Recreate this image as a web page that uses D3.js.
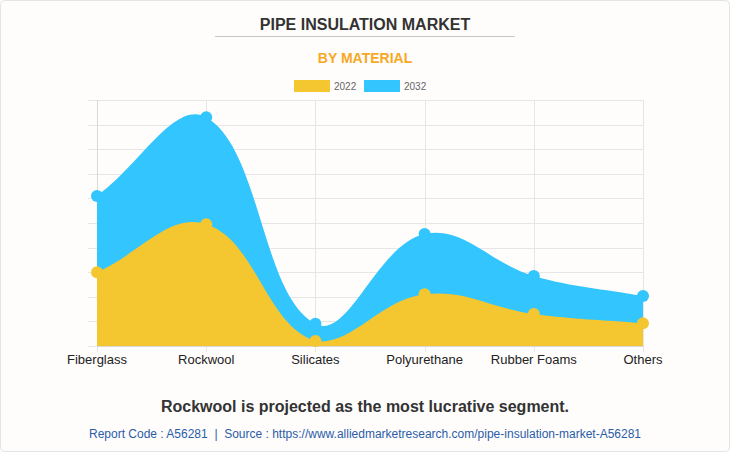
<!DOCTYPE html>
<html><head><meta charset="utf-8">
<script src="https://cdn.jsdelivr.net/npm/d3@7"></script>
<style>
html,body{margin:0;padding:0;background:#fff;}
svg{display:block;font-family:"Liberation Sans",Arial,sans-serif;}
</style></head>
<body>
<svg id="c" width="730" height="452"></svg>
<script>
const categories = ["Fiberglass","Rockwool","Silicates","Polyurethane","Rubber Foams","Others"];
const values2022 = [3.0, 4.95, 0.2, 2.1, 1.3, 0.92];
const values2032 = [6.1, 9.3, 0.9, 4.55, 2.85, 2.03];
const seriesNames = ["2022","2032"];
const colors = ["#f4c630","#33c5fe"];
const yTicks = d3.range(0, 11, 1);

const svg = d3.select("#c");
svg.append("rect").attr("x",0.5).attr("y",0.5).attr("width",729).attr("height",451)
  .attr("rx",4).attr("fill","#fefdfc").attr("stroke","#e4e4e4");

svg.append("text").attr("x",365).attr("y",30).attr("text-anchor","middle")
  .attr("font-size",16).attr("font-weight","bold").attr("fill","#333").text("PIPE INSULATION MARKET");
svg.append("line").attr("x1",215).attr("x2",515).attr("y1",36.5).attr("y2",36.5).attr("stroke","#c8c8c8");
svg.append("text").attr("x",365).attr("y",63).attr("text-anchor","middle")
  .attr("font-size",14).attr("font-weight","bold").attr("fill","#f7a823").text("BY MATERIAL");

// legend
const leg = [{x:294},{x:364}];
seriesNames.forEach((s,i)=>{
  svg.append("rect").attr("x",leg[i].x).attr("y",80).attr("width",36).attr("height",12).attr("fill",colors[i]);
  svg.append("text").attr("x",leg[i].x+40).attr("y",89.5).attr("font-size",10).attr("fill","#666").text(s);
});

const L=97, R=643, T=100, B=346;
const x = d3.scalePoint().domain(categories).range([L,R]);
const y = d3.scaleLinear().domain([0,10]).range([B,T]);

// grid
const g = svg.append("g");
g.selectAll(".hg").data(yTicks).join("line")
  .attr("x1",88).attr("x2",R+1).attr("y1",d=>Math.round(y(d))+0.5).attr("y2",d=>Math.round(y(d))+0.5)
  .attr("stroke","#e6e6e6");
g.selectAll(".vg").data(categories).join("line")
  .attr("x1",d=>Math.round(x(d))+0.5).attr("x2",d=>Math.round(x(d))+0.5).attr("y1",T).attr("y2",B+6)
  .attr("stroke","#e6e6e6");
g.append("line").attr("x1",L+0.5).attr("x2",L+0.5).attr("y1",T).attr("y2",B).attr("stroke","#d8d8d8");
g.append("line").attr("x1",L).attr("x2",R+1).attr("y1",B+0.5).attr("y2",B+0.5).attr("stroke","#d8d8d8");

// chart.js-like spline
function splinePath(vals, tension){
  const pts = vals.map((v,i)=>[x(categories[i]), y(v)]);
  const n = pts.length;
  const cps = pts.map((p,i)=>{
    const prev = pts[Math.max(0,i-1)], next = pts[Math.min(n-1,i+1)];
    const d01 = Math.hypot(p[0]-prev[0], p[1]-prev[1]);
    const d12 = Math.hypot(next[0]-p[0], next[1]-p[1]);
    let s01 = d01/(d01+d12), s12 = d12/(d01+d12);
    if(isNaN(s01)) s01=0; if(isNaN(s12)) s12=0;
    const fa = tension*s01, fb = tension*s12;
    const cap = (q)=>[Math.max(L,Math.min(R,q[0])), Math.max(T,Math.min(B,q[1]))];
    return {
      prev: cap([p[0]-fa*(next[0]-prev[0]), p[1]-fa*(next[1]-prev[1])]),
      next: cap([p[0]+fb*(next[0]-prev[0]), p[1]+fb*(next[1]-prev[1])])
    };
  });
  const path = d3.path();
  path.moveTo(pts[0][0], pts[0][1]);
  for(let i=1;i<n;i++){
    path.bezierCurveTo(cps[i-1].next[0], cps[i-1].next[1], cps[i].prev[0], cps[i].prev[1], pts[i][0], pts[i][1]);
  }
  return {d: path.toString(), pts};
}

[values2032, values2022].forEach((vals,k)=>{
  const ci = k===0 ? 1 : 0;
  const sp = splinePath(vals, 0.4);
  const area = sp.d + `L${R},${y(0)}L${L},${y(0)}Z`;
  svg.append("path").attr("d",area).attr("fill",colors[ci]);
  svg.selectAll(null).data(sp.pts).join("circle")
    .attr("cx",d=>d[0]).attr("cy",d=>d[1]).attr("r",6).attr("fill",colors[ci]);
});

// x labels
svg.selectAll(".xl").data(categories).join("text")
  .attr("x",d=>x(d)).attr("y",364).attr("text-anchor","middle")
  .attr("font-size",13).attr("fill","#222").text(d=>d);

svg.append("text").attr("x",365).attr("y",412).attr("text-anchor","middle")
  .attr("font-size",16).attr("font-weight","bold").attr("fill","#333")
  .text("Rockwool is projected as the most lucrative segment.");
svg.append("text").attr("x",365).attr("y",438).attr("text-anchor","middle")
  .attr("font-size",12).attr("fill","#2b5ca8").style("white-space","pre")
  .text("Report Code : A56281  |  Source : https://www.alliedmarketresearch.com/pipe-insulation-market-A56281");
</script>
</body></html>
